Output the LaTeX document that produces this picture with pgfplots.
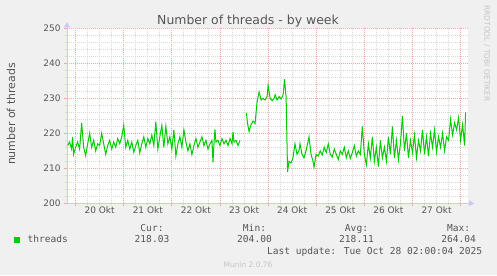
\documentclass[border=0pt]{standalone}
\usepackage{fontspec}
\setmainfont{DejaVu Sans}
\newfontfamily\monofont{DejaVu Sans Mono}
\usepackage{pgfplots}
\pgfplotsset{compat=1.18}
\usetikzlibrary{arrows.meta}
\definecolor{bg}{HTML}{F0F0F0}
\definecolor{txt}{HTML}{555555}
\definecolor{gridred}{HTML}{EDA8A8}
\definecolor{gridgray}{HTML}{D8D8D8}
\definecolor{axblue}{HTML}{C8CCF4}
\definecolor{lgreen}{HTML}{00CC00}
\definecolor{faint}{HTML}{C4C4C4}
\begin{document}
\begin{tikzpicture}[x=1bp,y=1bp]
\fill[bg] (0,0) rectangle (497,275);
\begin{axis}[
  at={(67bp,71.7bp)}, anchor=south west,
  scale only axis, width=401bp, height=175bp,
  xmin=-4.3, xmax=195.7, ymin=200, ymax=250,
  axis background/.style={fill=white},
  axis lines=left,
  axis line style={draw=axblue, line width=0.8bp},
  x axis line style={-{Triangle[length=5bp,width=6bp]}, shorten >=-6bp},
  y axis line style={-{Triangle[length=5bp,width=6bp]}, shorten >=-6bp},
  xtick={0,24,...,192}, xticklabels={},
  minor x tick num=3,
  extra x ticks={12,36,60,84,108,132,156,180},
  extra x tick labels={20 Okt,21 Okt,22 Okt,23 Okt,24 Okt,25 Okt,26 Okt,27 Okt},
  extra x tick style={grid=none, major tick length=0pt},
  ytick={200,210,...,250},
  minor y tick num=4,
  grid=both,
  major grid style={draw=gridred, line width=0.9bp, dash pattern=on 1bp off 1bp},
  minor grid style={draw=gridgray, line width=0.9bp, dash pattern=on 1bp off 1bp},
  tick align=outside,
  major tick length=3bp, minor tick length=2bp,
  tick style={draw=gridred, line width=0.8bp},
  minor tick style={draw=gridgray, line width=0.8bp},
  tick label style={font=\fontsize{9}{10}\selectfont, text=txt},
  /pgf/number format/assume math mode=true,
  legend style={at={(axis description cs:-0.1322,-0.2097)}, anchor=west, draw=none, fill=none, inner sep=0pt, outer sep=0pt, font=\monofont\fontsize{9.6}{11}\selectfont, text=txt, nodes={inner sep=0pt}},
  legend image code/.code={\fill[lgreen] (0bp,-2.65bp) rectangle (5.3bp,2.65bp); \path (12.7bp,0bp);},
]
\addplot[lgreen, line width=1bp, unbounded coords=jump] table {
x y
-4 216.5
-3 217.5
-2 215.5
-1.5 219
-1 214
0 216
1 217.5
2 215.5
3 223
4 216
5 213.6
6 217
7 220
8 216
9 218
10 215
11 217
12 216.5
13 220
14 217
15 214
16 216.5
17 218
18 215.5
19 217.5
20 216
21 218.5
22 217
23 219
24 222.3
25 216
26 218
27 215.5
28 217.5
29 214.6
30 216.5
31 218
32 214.4
33 217
34 219
35 216
36 218.5
37 217
38 219.5
39 216.5
40 223.3
41 215.5
42 219
43 222.3
44 216
45 222
46 217
47 219
48 215.5
49 221
50 213.5
51 217
52 219
53 216
54 221
55 217.5
56 215
57 217
58 213.9
59 216.5
60 218.5
61 216
62 217.5
63 219
64 216.5
65 218
66 215.5
67 217
68 218
68.5 211.7
69 217
69.5 221.1
70 217.5
71 218
72 216.5
73 218.5
74 217
75 218
76 216.5
77 218.5
78 217
78.5 220.4
79 217.5
80 218
81 216.5
82 218
83.5 nan
85.2 225.8
85.7 223
86.5 220.5
87.5 222.5
88.5 223.5
89.5 222.8
90.5 229
91.5 231.8
92.5 229.5
93.5 230
94.5 229.5
95.5 230.5
96 233.7
97 230
98 229.3
99 230
99.5 231
100.5 229.5
101.5 230.5
102.5 229.8
103.5 231
104.2 235.5
105 230
105.7 209
106.4 212
107.4 211.5
108.4 213
109.4 217
110.4 214
111.4 215
111.9 217
112.9 214
113.9 213
114.9 215
115.9 217.5
116.4 219
117.4 214
118.4 212
118.9 210.3
119.9 214
121 213.5
122 215
123 213.8
124 216
125 214.5
126 217
127 214
128 213.2
129 215.5
130 214
131 212.5
132 215
133 214
134 216
135 213
136 215
137 212.8
138 214.5
139 216.5
140 213.5
141 215
142 214
143 222
144 214
145 211
146 217
147 213
148 219
149 212
150 216
151 210.5
152 218
153 213
154 216
155 212
156 219
157 214
158 222
159 213
160 218
161 212.5
162 217
163 225
164 215
165 220
166 213
167 218
168 214.5
169 219.5
170 213
171 218
172 215
173 221
174 214
175 219
176 213.5
177 220
178 216
179 221
180 214.7
181 219
182 216
183 220
184 215
185 219
186 218
187 224
188 219.5
189 223
190 221
191 224.5
192 218
193 222.5
194 216.5
194.5 226
};
\addlegendentry{threads}
\end{axis}
\node[anchor=base, font=\fontsize{12.5}{14}\selectfont, text=txt, inner sep=0pt] at (248,251) {Number of threads - by week};
\node[rotate=90, anchor=base, font=\fontsize{11}{13}\selectfont, text=txt, inner sep=0pt] at (15,161) {number of threads};
\begin{scope}[every node/.style={font=\monofont\fontsize{9.6}{11}\selectfont, text=txt, inner sep=0pt}]
\node[anchor=base] at (152,43.8) {Cur:};
\node[anchor=base] at (254.5,43.8) {Min:};
\node[anchor=base] at (356.5,43.8) {Avg:};
\node[anchor=base] at (458.7,43.8) {Max:};
\node[anchor=base] at (152,32.2) {218.03};
\node[anchor=base] at (254.5,32.2) {204.00};
\node[anchor=base] at (356.5,32.2) {218.11};
\node[anchor=base] at (458.7,32.2) {264.04};
\node[anchor=base east] at (482.3,20.5) {Last update: Tue Oct 28 02:00:04 2025};
\end{scope}
\node[anchor=base, font=\fontsize{7.5}{9}\selectfont, text=faint, inner sep=0pt] at (248,8) {Munin 2.0.76};
\node[rotate=-90, anchor=base, font=\fontsize{7.5}{9}\selectfont, text=faint, inner sep=0pt] at (484.3,221.5) {RRDTOOL / TOBI OETIKER};
\pgfresetboundingbox
\useasboundingbox (0,0) rectangle (497,275);
\end{tikzpicture}
\end{document}
